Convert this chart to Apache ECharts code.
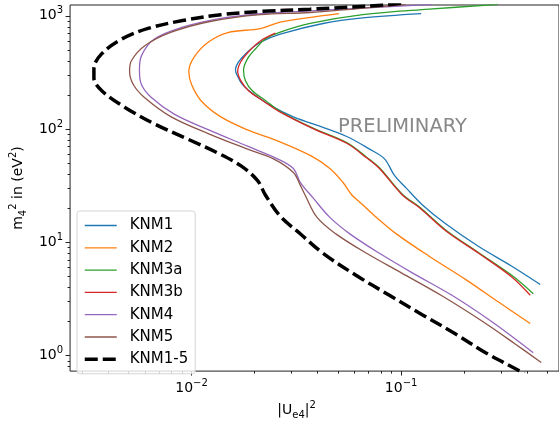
<!DOCTYPE html>
<html lang="en">
<head>
<meta charset="UTF-8">
<title>KNM sterile neutrino sensitivity</title>
<script src="https://cdn.jsdelivr.net/npm/echarts@6.0.0/dist/echarts.min.js"></script>
<style>
  html, body { margin: 0; padding: 0; background: #fff; }
  #chart { width: 559px; height: 425px; }
</style>
</head>
<body>
<div id="chart"></div>
<script>
// contour points: [|U_e4|^2, m4^2 (eV^2)]
var knm1 = [[0.1246,1045],[0.0655,957],[0.0424,855],[0.0265,688],[0.0213,584],[0.0185,479],[0.0168,393],[0.0162,333],[0.0166,292],[0.0175,247],[0.0198,203],[0.0246,156],[0.0306,128],[0.038,111],[0.055,86],[0.0707,66.5],[0.0833,54.6],[0.0929,39],[0.1058,30.1],[0.126,21.5],[0.1637,14.5],[0.2345,9.18],[0.336,6.18],[0.461,4.24]];
var knm2 = [[0.0505,1045],[0.0265,878],[0.0213,770],[0.0149,711],[0.012,584],[0.0103,434],[0.0097,322],[0.01,247],[0.0111,178],[0.0138,128],[0.0185,98.3],[0.026,77.9],[0.0372,57.9],[0.0457,44.8],[0.0527,33.9],[0.0582,26.2],[0.0655,21.5],[0.0763,16.6],[0.0949,11.88],[0.136,7.54],[0.2035,4.69],[0.2915,2.97],[0.413,1.92]];
var knm3a = [[0.29,1260],[0.136,1144],[0.0655,1022],[0.0368,855],[0.0265,716],[0.0225,623],[0.0202,511],[0.0185,419],[0.0177,331],[0.0181,266],[0.0195,218],[0.0225,179],[0.0265,143],[0.038,102],[0.055,76],[0.0684,56.5],[0.0788,45.5],[0.1013,26.6],[0.122,20.6],[0.1637,12.8],[0.2345,8.1],[0.336,5.14],[0.427,3.52]];
var knm3b = [[0.0251,702],[0.0213,599],[0.0187,482],[0.0172,395],[0.0166,324],[0.0172,266],[0.0187,218],[0.0218,179],[0.0265,141],[0.038,100.8],[0.055,74.9],[0.0684,55.7],[0.0788,44.8],[0.1013,26.2],[0.122,20.3],[0.1637,12.6],[0.2345,8.0],[0.336,4.97],[0.413,3.41]];
var knm4 = [[0.14,1260],[0.0368,1106],[0.0213,1042],[0.0134,939],[0.0089,785],[0.00665,623],[0.00577,445],[0.00564,331],[0.00577,246],[0.00643,190],[0.00826,135.6],[0.012,98.8],[0.0185,70.6],[0.0257,54.6],[0.0306,44.8],[0.033,33.9],[0.038,24.7],[0.0457,16.6],[0.0569,11.88],[0.0788,8.0],[0.113,5.38],[0.1747,3.41],[0.27,2.0],[0.427,1.061]];
var knm5 = [[0.105,1260],[0.0368,1069],[0.0213,1022],[0.0124,895],[0.008,716],[0.00596,542],[0.00517,403],[0.00506,324],[0.00528,246],[0.00596,190],[0.008,128],[0.012,91.3],[0.0185,66.5],[0.0246,54.6],[0.0306,41.4],[0.033,32],[0.0348,26.2],[0.0397,16.6],[0.0488,11.88],[0.0684,8.0],[0.1002,5.38],[0.155,3.41],[0.245,2.0],[0.35,1.268],[0.466,0.871]];
var knm15 = [[0.1,1290],[0.0833,1245],[0.0368,1144],[0.0213,1091],[0.0138,1022],[0.0092,912],[0.0062,774],[0.00464,623],[0.00373,463],[0.00342,344],[0.00342,282],[0.00373,218],[0.00479,156],[0.00665,111],[0.00963,81.2],[0.01335,61.4],[0.01715,47.5],[0.0206,35.3],[0.0225,26.2],[0.0265,17.0],[0.033,11.9],[0.0424,8.0],[0.0614,5.07],[0.0879,3.41],[0.126,2.30],[0.182,1.55],[0.253,1.06],[0.362,0.743],[0.4,0.66]];

var seriesNames = ['KNM1', 'KNM2', 'KNM3a', 'KNM3b', 'KNM4', 'KNM5', 'KNM1-5'];
var seriesData = [knm1, knm2, knm3a, knm3b, knm4, knm5, knm15];
var seriesColors = ['#1f77b4', '#ff7f0e', '#2ca02c', '#d62728', '#9467bd', '#8c564b', '#000000'];

var xMajor = [0.01, 0.1];
var xMinor = [0.003,0.004,0.005,0.006,0.007,0.008,0.009,0.02,0.03,0.04,0.05,0.06,0.07,0.08,0.09,0.2,0.3,0.4,0.5];
var yMajor = [1, 10, 100, 1000];
var yMinor = [0.8,0.9,2,3,4,5,6,7,8,9,20,30,40,50,60,70,80,90,200,300,400,500,600,700,800,900];

var FONT = 'DejaVu Sans';

function powLabel(v) {
    var e = Math.round(Math.log(v) / Math.LN10);
    return '{b|10}{s|' + (e < 0 ? '\u2212' + (-e) : e) + '}';
}
var tickRich = {
    b: { fontSize: 14, fontFamily: FONT, color: '#000', lineHeight: 20 },
    s: { fontSize: 10, fontFamily: FONT, color: '#000', lineHeight: 10, verticalAlign: 'top' }
};
var nameRich = {
    n: { fontSize: 14, fontFamily: FONT, color: '#000', lineHeight: 20 },
    d: { fontSize: 10, fontFamily: FONT, color: '#000', lineHeight: 10, verticalAlign: 'bottom' },
    u: { fontSize: 10, fontFamily: FONT, color: '#000', lineHeight: 10, verticalAlign: 'top' }
};

var myChart = echarts.init(document.getElementById('chart'), null, { renderer: 'canvas' });

var series = seriesNames.map(function (name, i) {
    var dashed = name === 'KNM1-5';
    return {
        name: name,
        type: 'line',
        data: seriesData[i],
        symbol: 'none',
        showSymbol: false,
        smooth: 0.35,
        clip: true,
        z: dashed ? 3 : 2,
        color: seriesColors[i],
        lineStyle: { color: seriesColors[i], width: dashed ? 3.5 : 1.3, type: dashed ? [13, 5] : 'solid' }
    };
});

var option = {
    animation: false,
    grid: { left: 68, right: -2, top: 5, bottom: 44, show: true, borderColor: '#222', borderWidth: 1, backgroundColor: 'transparent' },
    legend: {
        orient: 'vertical',
        left: 77,
        top: 211,
        padding: [7, 7, 7, 6],
        itemWidth: 32,
        itemHeight: 14,
        itemGap: 7.3,
        selectedMode: false,
        data: seriesNames,
        lineStyle: { width: 'inherit' },
        itemStyle: { color: 'rgba(0,0,0,0)', borderWidth: 0, opacity: 0 },
        textStyle: { fontSize: 15, fontFamily: FONT, color: '#000', padding: [0, 0, 0, 8] },
        backgroundColor: 'rgba(255,255,255,0.8)',
        borderColor: '#d5d5d5',
        borderWidth: 1,
        borderRadius: 3
    },
    xAxis: [{
        type: 'log',
        position: 'bottom',
        min: 0.002632,
        max: 0.5666,
        axisLine: { show: false },
        splitLine: { show: false },
        axisTick: { show: true, length: 4.5, customValues: xMajor, lineStyle: { color: '#222' } },
        axisLabel: { customValues: xMajor, margin: 7, formatter: powLabel, rich: tickRich },
        name: '{n|\u007CU}{d|e4}{n|\u007C}{u|2}',
        nameLocation: 'middle',
        nameGap: 20,
        nameTextStyle: { padding: [0, 36, 0, 0], rich: nameRich }
    }, {
        type: 'log',
        position: 'bottom',
        min: 0.002632,
        max: 0.5666,
        axisLine: { show: false },
        splitLine: { show: false },
        axisTick: { show: true, length: 2.5, customValues: xMinor, lineStyle: { color: '#222' } },
        axisLabel: { show: false }
    }],
    yAxis: [{
        type: 'log',
        position: 'left',
        min: 0.73,
        max: 1245,
        axisLine: { show: false },
        splitLine: { show: false },
        axisTick: { show: true, length: 4.5, customValues: yMajor, lineStyle: { color: '#222' } },
        axisLabel: { customValues: yMajor, margin: 7, formatter: powLabel, rich: tickRich },
        name: '{n|m}{d|4}{u|2}{n| in (eV}{u|2}{n|)}',
        nameLocation: 'middle',
        nameRotate: 90,
        nameGap: 36,
        nameTextStyle: { rich: nameRich }
    }, {
        type: 'log',
        position: 'left',
        min: 0.73,
        max: 1245,
        axisLine: { show: false },
        splitLine: { show: false },
        axisTick: { show: true, length: 2.5, customValues: yMinor, lineStyle: { color: '#222' } },
        axisLabel: { show: false }
    }],
    graphic: [{
        type: 'text',
        left: 338,
        top: 117,
        style: { text: 'PRELIMINARY', fontSize: 19.5, fontFamily: FONT, fill: '#888888' }
    }],
    series: series
};

myChart.setOption(option);
</script>
</body>
</html>
